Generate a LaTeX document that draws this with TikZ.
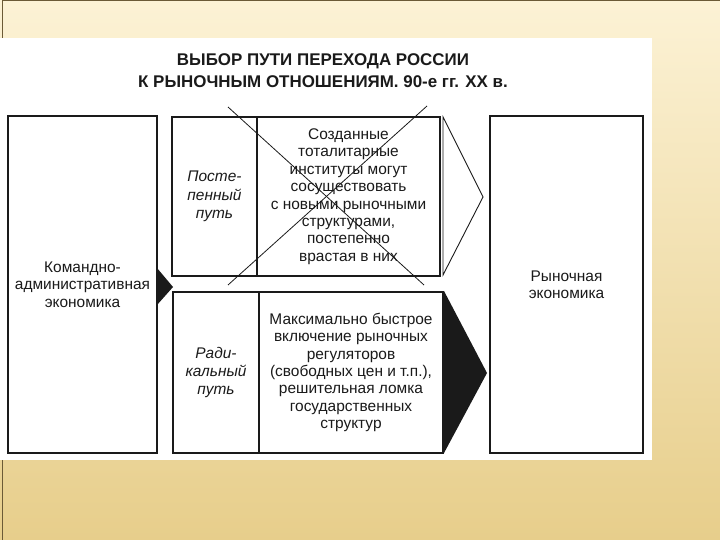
\documentclass[tikz,border=0pt]{standalone}
\usepackage{fontspec}
\setmainfont{Liberation Sans}
\usepackage{tikz}
\usepackage{xcolor}
\usetikzlibrary{positioning}

\definecolor{slidetop}{HTML}{FCF2D5}
\definecolor{slidebot}{HTML}{E7CE8B}
\definecolor{slideedge}{HTML}{6B5A36}
\definecolor{ink}{HTML}{1A1A1A}

\begin{document}
\begin{tikzpicture}[x=1bp, y=-1bp,
        box/.style={rectangle, draw=ink, line width=1.1bp, inner sep=0pt, align=center, text=ink, font=\fontsize{15.5}{17.5}\selectfont},
        lbl/.style={box, font=\fontsize{15.5}{18.5}\selectfont\itshape}]
                \useasboundingbox (0,0) rectangle (720,540);
                \shade[top color=slidetop, bottom color=slidebot] (0,0) rectangle (720,540);
                \draw[slideedge, line width=1bp] (2,540) -- (2,1) -- (720,1);
                \fill[white] (0,38) rectangle (652,460);

                \node[align=center, text=ink, font=\bfseries\fontsize{17}{22}\selectfont] (title) at (323,71) {ВЫБОР ПУТИ ПЕРЕХОДА РОССИИ\\К РЫНОЧНЫМ ОТНОШЕНИЯМ. 90-е гг. XX в.};

                \node[box, minimum width=149bp, minimum height=337bp] (cmd) at (82.5,284.5) {Командно-\\административная\\экономика};
                \node[lbl, minimum width=85bp, minimum height=159bp] (gradlbl) at (214.5,196.5) {Посте-\\пенный\\путь};
                \node[box, minimum width=183bp, minimum height=159bp] (gradtxt) at (348.5,196.5) {Созданные\\тоталитарные\\институты могут\\сосуществовать\\с новыми рыночными\\структурами,\\постепенно\\врастая в них};
                \node[lbl, minimum width=86bp, minimum height=161bp] (radlbl) at (216,372.5) {Ради-\\кальный\\путь};
                \node[box, minimum width=184bp, minimum height=161bp] (radtxt) at (351,372.5) {Максимально быстрое\\включение рыночных\\регуляторов\\(свободных цен и т.п.),\\решительная ломка\\государственных\\структур};
                \node[box, minimum width=153bp, minimum height=337bp] (market) at (566.5,284.5) {Рыночная\\экономика};

                % arrows between the columns
                \fill[ink] (157,268) -- (173,287) -- (157,305) -- cycle;
                \draw[ink, line width=0.9bp, fill=white] (443,117) -- (483,197) -- (443,275) -- cycle;
                \fill[ink] (444,291) -- (487,373) -- (444,453) -- cycle;

                % the gradual path is crossed out
                \coordinate (xtl) at (228,107);
                \coordinate (xbr) at (424,285);
                \coordinate (xtr) at (427,106);
                \coordinate (xbl) at (228,285);
                \draw[ink, line width=0.8bp] (xtl) -- (xbr);
                \draw[ink, line width=0.8bp] (xtr) -- (xbl);
            \end{tikzpicture}
\end{document}
